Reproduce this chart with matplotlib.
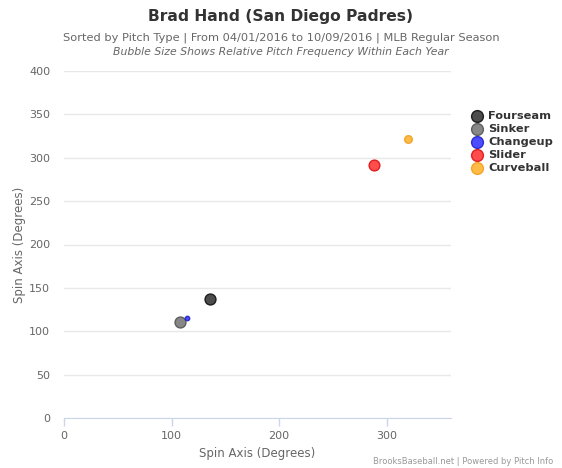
import matplotlib
matplotlib.use("Agg")
import matplotlib.pyplot as plt
from matplotlib.lines import Line2D

pitch_types = ["Fourseam", "Sinker", "Changeup", "Slider", "Curveball"]
spin_x = [135.8, 107.9, 114.4, 288.7, 319.7]
spin_y = [137.2, 110.3, 115.6, 291.6, 321.6]
freq = [62, 62, 10, 60, 30]
fills = ["#3a3a3a", "#7a7a7a", "#3a3aff", "#ff3a3a", "#ffb432"]
edges = ["#111111", "#555555", "#2222cc", "#dd1111", "#f0a020"]

xticks = [0, 100, 200, 300]
yticks = [0, 50, 100, 150, 200, 250, 300, 350, 400]

W, H = 562, 468
fig = plt.figure(figsize=(W/100, H/100), dpi=100)
ax = fig.add_axes([64/W, 50/H, (451-64)/W, (418-71)/H])

for i in range(len(pitch_types)):
    ax.scatter(spin_x[i], spin_y[i], s=freq[i], c=fills[i], edgecolors=edges[i],
               linewidths=1.0, alpha=0.9, zorder=3)

ax.set_xlim(0, 360)
ax.set_ylim(0, 400)
ax.set_xticks(xticks)
ax.set_yticks(yticks)
ax.grid(axis="y", color="#e8e8e8", linewidth=1)
ax.set_axisbelow(True)
for s in ["top", "right", "left"]:
    ax.spines[s].set_visible(False)
ax.spines["bottom"].set_color("#ccd6eb")
ax.tick_params(axis="x", colors="#ccd6eb", labelcolor="#666666", labelsize=8, length=6, width=1)
ax.tick_params(axis="y", length=0, labelcolor="#666666", labelsize=8, pad=10)
ax.set_xlabel("Spin Axis (Degrees)", color="#666666", fontsize=8.5, labelpad=4)
ax.set_ylabel("Spin Axis (Degrees)", color="#666666", fontsize=8.5, labelpad=2.5)

fig.text(0.5, 1 - 17/H, "Brad Hand (San Diego Padres)", ha="center", va="center",
         fontsize=11.2, fontweight="bold", color="#333333")
fig.text(0.5, 1 - 38/H, "Sorted by Pitch Type | From 04/01/2016 to 10/09/2016 | MLB Regular Season",
         ha="center", va="center", fontsize=8.2, color="#666666")
fig.text(0.5, 1 - 52/H, "Bubble Size Shows Relative Pitch Frequency Within Each Year",
         ha="center", va="center", fontsize=7.8, color="#666666", style="italic")
fig.text(553/W, 1 - 461/H, "BrooksBaseball.net | Powered by Pitch Info",
         ha="right", va="center", fontsize=6.0, color="#999999")

# manual legend
for i, name in enumerate(pitch_types):
    yy = 1 - (116 + 13 * i) / H
    fig.add_artist(Line2D([477/W], [yy], marker="o", linestyle="", markersize=8.5,
                          markerfacecolor=fills[i], markeredgecolor=edges[i], alpha=0.9,
                          transform=fig.transFigure))
    fig.text(488/W, yy, name, ha="left", va="center", fontsize=8.2,
             fontweight="bold", color="#333333")

fig.savefig("out.png", dpi=100)
